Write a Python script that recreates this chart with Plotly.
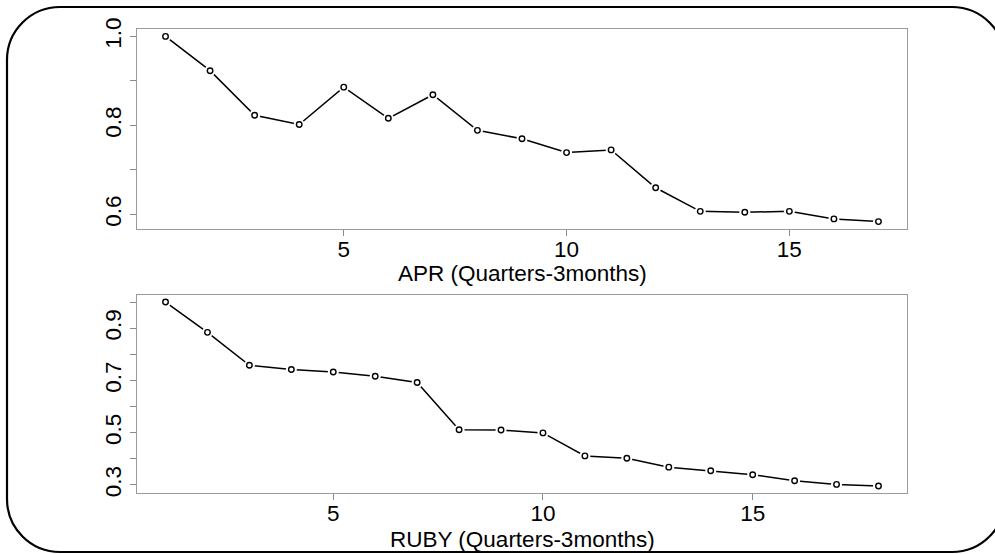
import plotly.graph_objects as go

W, H = 995, 554

# Data
apr_q = list(range(1, 18))
apr_vals = [1.000, 0.923, 0.823, 0.802, 0.886, 0.816, 0.869, 0.789, 0.770,
            0.739, 0.745, 0.660, 0.607, 0.605, 0.607, 0.590, 0.584]
ruby_q = list(range(1, 19))
ruby_vals = [1.000, 0.884, 0.758, 0.742, 0.732, 0.716, 0.692, 0.511, 0.510,
             0.499, 0.411, 0.402, 0.368, 0.354, 0.339, 0.316, 0.302, 0.296]

x_ticks = [5, 10, 15]
apr_yticks = [0.6, 0.7, 0.8, 0.9, 1.0]
apr_ylabels = ["0.6", "", "0.8", "", "1.0"]
ruby_yticks = [0.3, 0.4, 0.5, 0.6, 0.7, 0.8, 0.9, 1.0]
ruby_ylabels = ["0.3", "", "0.5", "", "0.7", "", "0.9", ""]
titles = ["APR (Quarters-3months)", "RUBY (Quarters-3months)"]

FONT = "Liberation Sans, Arial, sans-serif"
FS = 22.5


def px(x):
    return x / W


def py(y):
    return 1 - y / H


fig = go.Figure()


def add_series(x, y, xa, ya):
    fig.add_trace(go.Scatter(x=x, y=y, mode="lines", xaxis=xa, yaxis=ya,
                             line=dict(color="black", width=1.5),
                             hoverinfo="skip", showlegend=False))
    fig.add_trace(go.Scatter(x=x, y=y, mode="markers", xaxis=xa, yaxis=ya,
                             marker=dict(symbol="circle", size=11, color="white",
                                         line=dict(width=0)),
                             hoverinfo="skip", showlegend=False))
    fig.add_trace(go.Scatter(x=x, y=y, mode="markers", xaxis=xa, yaxis=ya,
                             marker=dict(symbol="circle", size=5.5, color="white",
                                         line=dict(width=1.4, color="black")),
                             showlegend=False))


add_series(apr_q, apr_vals, "x", "y")
add_series(ruby_q, ruby_vals, "x2", "y2")

xdom = [px(137), px(907)]
axis_common = dict(showline=True, linecolor="#9a9a9a", linewidth=1.2, mirror=True,
                   ticks="outside", ticklen=6, tickcolor="#8a8a8a", tickwidth=1.2,
                   showgrid=False, zeroline=False, automargin=False,
                   tickfont=dict(family=FONT, size=FS, color="black"))


def xrange_for(n):
    d = (n - 1) * 0.04
    return [1 - d, n + d]


def yrange_for(vals):
    lo, hi = min(vals), max(vals)
    d = (hi - lo) * 0.04
    return [lo - d, hi + d]


fig.update_layout(
    width=W, height=H,
    margin=dict(l=0, r=0, t=0, b=0),
    paper_bgcolor="white", plot_bgcolor="white",
    xaxis=dict(domain=xdom, anchor="y", range=xrange_for(len(apr_q)),
               tickvals=x_ticks, ticktext=[str(v) for v in x_ticks],
               ticklabelstandoff=-6, **axis_common),
    yaxis=dict(domain=[py(229), py(29)], anchor="x", range=yrange_for(apr_vals),
               tickvals=apr_yticks, ticktext=apr_ylabels, tickangle=-90,
               **axis_common),
    xaxis2=dict(domain=xdom, anchor="y2", range=xrange_for(len(ruby_q)),
                tickvals=x_ticks, ticktext=[str(v) for v in x_ticks],
                ticklabelstandoff=-6, **axis_common),
    yaxis2=dict(domain=[py(493.3), py(294.7)], anchor="x2", range=yrange_for(ruby_vals),
                tickvals=ruby_yticks, ticktext=ruby_ylabels, tickangle=-90,
                **axis_common),
)

for t, yc in zip(titles, [273, 539]):
    fig.add_annotation(text=t, xref="paper", yref="paper", x=px(522), y=py(yc),
                       xanchor="center", yanchor="middle", showarrow=False,
                       font=dict(family=FONT, size=FS, color="black"))

# Rounded outer frame (pixel geometry converted to paper coords)
x0, y0, x1, y1, r = 7, 7, 1005, 552, 53
k = 0.5523 * r


def P(x, y):
    return f"{px(x):.5f},{py(y):.5f}"


path = (f"M {P(x0 + r, y0)} L {P(x1 - r, y0)} "
        f"C {P(x1 - r + k, y0)} {P(x1, y0 + r - k)} {P(x1, y0 + r)} "
        f"L {P(x1, y1 - r)} "
        f"C {P(x1, y1 - r + k)} {P(x1 - r + k, y1)} {P(x1 - r, y1)} "
        f"L {P(x0 + r, y1)} "
        f"C {P(x0 + r - k, y1)} {P(x0, y1 - r + k)} {P(x0, y1 - r)} "
        f"L {P(x0, y0 + r)} "
        f"C {P(x0, y0 + r - k)} {P(x0 + r - k, y0)} {P(x0 + r, y0)} Z")
fig.add_shape(type="path", path=path, xref="paper", yref="paper",
              line=dict(color="black", width=2.2), layer="above")

fig.write_html("out.html")
